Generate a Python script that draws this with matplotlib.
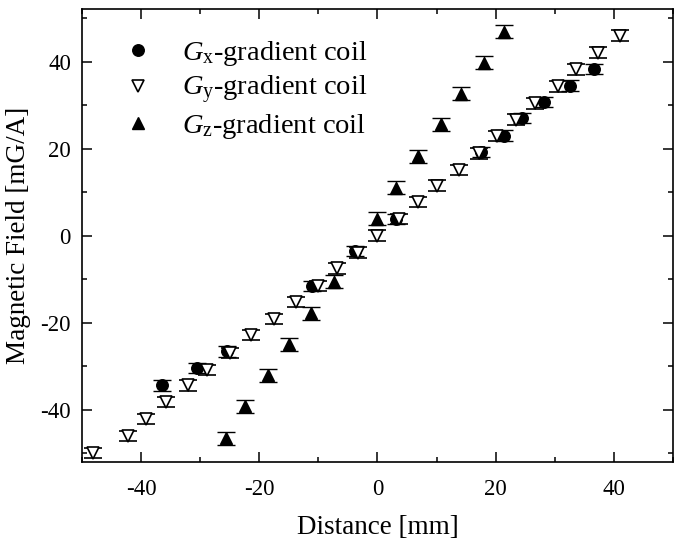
import matplotlib
matplotlib.use("Agg")
import matplotlib.pyplot as plt
from matplotlib.lines import Line2D
from matplotlib.ticker import MultipleLocator

plt.rcParams['font.family'] = ['Liberation Serif', 'DejaVu Serif']
plt.rcParams['mathtext.fontset'] = 'custom'
plt.rcParams['mathtext.rm'] = 'Liberation Serif'
plt.rcParams['mathtext.it'] = 'Liberation Serif:italic'
plt.rcParams['axes.unicode_minus'] = False

# Gx-gradient coil
gx_x = [-36.4, -30.6, -25.4, -11.0, -3.8, 3.1, 17.5, 21.4, 24.5, 28.2, 32.6, 36.7]
gx_y = [-34.4, -30.4, -26.6, -11.5, -3.5, 3.8, 19.2, 23.0, 27.1, 30.7, 34.5, 38.3]
# Gy-gradient coil
gy_x = [-48.2, -42.3, -39.1, -35.8, -32.1, -28.8, -25.0, -21.4, -17.5, -13.8, -10.0,
        -6.8, -3.3, 0.0, 3.7, 6.8, 10.1, 13.8, 17.2, 20.3, 23.5, 26.7, 30.5, 33.6, 37.3, 41.0]
gy_y = [-49.9, -46.0, -42.1, -38.2, -34.4, -30.8, -26.9, -22.8, -19.1, -15.2, -11.5,
        -7.5, -3.9, 0.0, 3.8, 7.7, 11.5, 15.1, 18.9, 22.9, 26.7, 30.4, 34.3, 38.2, 42.1, 46.0]
# Gz-gradient coil
gz_x = [-25.7, -22.4, -18.6, -14.9, -11.2, -7.3, -0.1, 3.1, 6.8, 10.7, 14.2, 18.1, 21.4]
gz_y = [-46.5, -39.2, -32.1, -24.9, -17.8, -10.6, 3.9, 11.0, 18.3, 25.6, 32.6, 39.8, 46.9]

err_xy = 1.2
err_z = 1.5

labels = [r'$G_{\mathrm{x}}$-gradient coil', r'$G_{\mathrm{y}}$-gradient coil',
          r'$G_{\mathrm{z}}$-gradient coil']

fig = plt.figure(figsize=(6.75, 5.42), dpi=100)
ax = fig.add_axes([0.1215, 0.1476, 0.8755, 0.835])

ms = 8.3
ekw = dict(ls='none', ecolor='black', elinewidth=0.8, capsize=6.5, capthick=1.0, ms=ms)
ax.errorbar(gx_x, gx_y, yerr=err_xy, marker='o', mfc='black', mec='black', **ekw)
ax.errorbar(gz_x, gz_y, yerr=err_z, marker='^', mfc='black', mec='black', **ekw)
ax.errorbar(gy_x, gy_y, yerr=err_xy, marker='v', mfc='white', mec='black', mew=1.2, **ekw)

ax.set_xlim(-50, 50)
ax.set_ylim(-52, 52)
ax.xaxis.set_major_locator(MultipleLocator(20))
ax.xaxis.set_minor_locator(MultipleLocator(10))
ax.yaxis.set_major_locator(MultipleLocator(20))
ax.yaxis.set_minor_locator(MultipleLocator(10))
ax.tick_params(which='both', direction='in', top=True, right=True, width=1.1, labelsize=16.5)
ax.tick_params(which='major', length=7)
ax.tick_params(which='minor', length=3.5)
ax.tick_params(axis='x', pad=12)
ax.tick_params(axis='y', pad=8)
for s in ax.spines.values():
    s.set_linewidth(1.2)

ax.set_xlabel('Distance [mm]', fontsize=19.5, labelpad=11)
ax.set_ylabel('Magnetic Field [mG/A]', fontsize=19.5, labelpad=7)

handles = [Line2D([], [], ls='none', marker='o', mfc='black', mec='black', ms=ms),
           Line2D([], [], ls='none', marker='v', mfc='white', mec='black', mew=1.2, ms=ms),
           Line2D([], [], ls='none', marker='^', mfc='black', mec='black', ms=ms)]
ax.legend(handles, labels, loc='upper left', bbox_to_anchor=(0.008, 0.985), frameon=False,
          fontsize=20.5, handletextpad=0.55, labelspacing=0.2, borderpad=0.3)

fig.savefig('out.png', dpi=100)
